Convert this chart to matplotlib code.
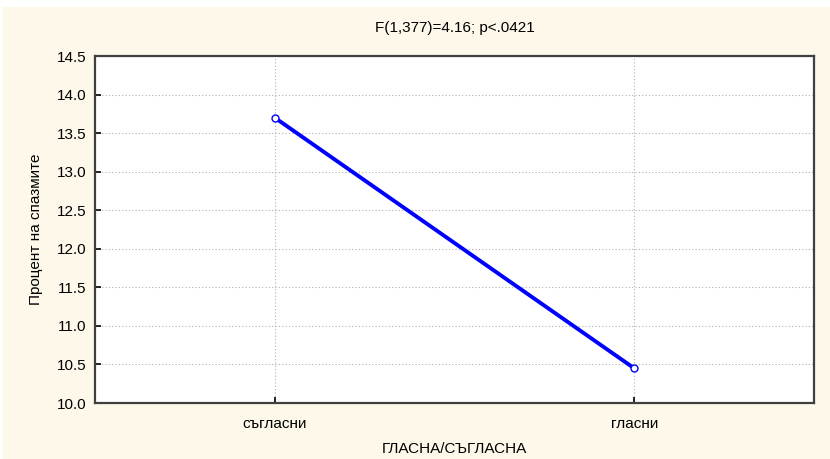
import matplotlib
matplotlib.use('Agg')
import matplotlib.pyplot as plt
from matplotlib.patches import Rectangle

plt.rcParams['font.family'] = ['Liberation Sans Narrow', 'Liberation Sans', 'DejaVu Sans']

categories = ['съгласни', 'гласни']
percent = [13.7, 10.45]
yticks = [10.0, 10.5, 11.0, 11.5, 12.0, 12.5, 13.0, 13.5, 14.0, 14.5]

fig = plt.figure(figsize=(8.3, 4.59), dpi=100)
fig.patch.set_facecolor('white')
# cream panel behind everything, leaving a thin white edge at top/left
fig.patches.append(Rectangle((3 / 830, 0), 1, 1 - 7 / 459, transform=fig.transFigure,
                             facecolor='#fdf8ea', edgecolor='none', zorder=-10))

ax = fig.add_axes([95 / 830, 1 - 403 / 459, (814 - 95) / 830, (403 - 56) / 459])
ax.set_facecolor('white')

x = list(range(len(categories)))
ax.plot(x, percent, color='#0000ff', linewidth=2.8, marker='o', markersize=5,
        markerfacecolor='white', markeredgecolor='#0000ff', markeredgewidth=1.0, zorder=3)

ax.set_xlim(-0.5, len(categories) - 0.5)
ax.set_ylim(10.0, 14.5)
ax.set_xticks(x)
ax.set_xticklabels(categories)
ax.set_yticks(yticks)
ax.set_yticklabels([f'{v:.1f}' for v in yticks])

ax.grid(True, color='#b0b0b0', linestyle=(0, (1, 2)), linewidth=0.8)
ax.set_axisbelow(True)
ax.tick_params(direction='in', length=4, width=1.2, labelsize=11, colors='black', pad=6)
ax.tick_params(axis='x', pad=10)
for sp in ax.spines.values():
    sp.set_color('#404040')
    sp.set_linewidth(1.6)

ax.set_title('F(1,377)=4.16; p<.0421', fontsize=11, pad=17)
ax.set_xlabel('ГЛАСНА/СЪГЛАСНА', fontsize=11, labelpad=8)
ax.set_ylabel('Процент на спазмите', fontsize=11, labelpad=10)

fig.savefig('out.png', dpi=100)
